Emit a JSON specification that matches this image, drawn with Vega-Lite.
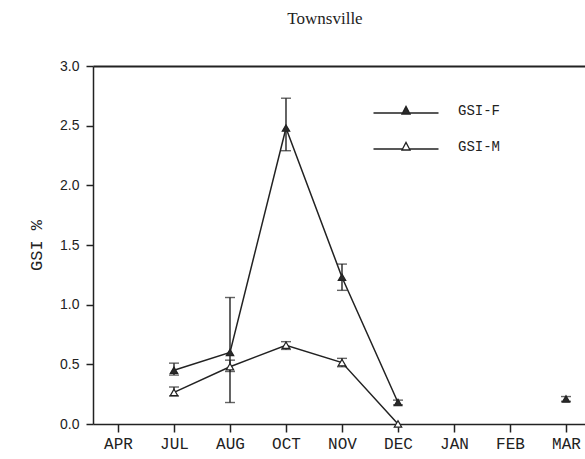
{
  "$schema": "https://vega.github.io/schema/vega-lite/v6.json",
  "width": 492,
  "height": 358,
  "autosize": {"type": "none"},
  "padding": {"left": 93, "top": 66, "right": 0, "bottom": 35},
  "background": "white",
  "title": {"text": "Townsville", "font": "Liberation Serif", "fontSize": 17, "fontWeight": "normal", "color": "#222", "offset": 31, "dx": -14},
  "config": {
    "view": {"stroke": null},
    "axis": {"grid": false, "domainColor": "#222", "domainWidth": 1.5, "tickColor": "#222", "tickWidth": 1.5, "tickSize": 7, "labelColor": "#222", "titleColor": "#222"}
  },
  "data": {"values": [
    {"month": "JUL", "series": "GSI-F", "value": 0.45, "lo": 0.41, "hi": 0.51},
    {"month": "AUG", "series": "GSI-F", "value": 0.60, "lo": 0.18, "hi": 1.06},
    {"month": "OCT", "series": "GSI-F", "value": 2.48, "lo": 2.29, "hi": 2.73},
    {"month": "NOV", "series": "GSI-F", "value": 1.23, "lo": 1.12, "hi": 1.34},
    {"month": "DEC", "series": "GSI-F", "value": 0.18, "lo": 0.16, "hi": 0.20},
    {"month": "JAN", "series": "GSI-F", "value": null, "lo": null, "hi": null},
    {"month": "FEB", "series": "GSI-F", "value": null, "lo": null, "hi": null},
    {"month": "MAR", "series": "GSI-F", "value": 0.21, "lo": 0.19, "hi": 0.23},
    {"month": "JUL", "series": "GSI-M", "value": 0.265, "lo": 0.235, "hi": 0.31},
    {"month": "AUG", "series": "GSI-M", "value": 0.48, "lo": 0.44, "hi": 0.535},
    {"month": "OCT", "series": "GSI-M", "value": 0.66, "lo": 0.625, "hi": 0.69},
    {"month": "NOV", "series": "GSI-M", "value": 0.515, "lo": 0.48, "hi": 0.55},
    {"month": "DEC", "series": "GSI-M", "value": 0.0, "lo": null, "hi": null}
  ]},
  "layer": [
    {
      "mark": {"type": "line", "color": "#222", "strokeWidth": 1.5},
      "encoding": {
        "x": {"field": "month", "type": "ordinal", "scale": {"type": "point", "domain": ["APR","JUL","AUG","OCT","NOV","DEC","JAN","FEB","MAR"], "padding": 0.393, "align": 0.568},
              "axis": {"orient": "bottom", "title": null, "labelAngle": 0, "labelFont": "Liberation Mono", "labelFontSize": 16, "labelPadding": 3, "tickSize": 8}},
        "y": {"field": "value", "type": "quantitative", "scale": {"domain": [0, 3], "nice": false, "zero": true},
              "axis": {"values": [0, 0.5, 1, 1.5, 2, 2.5, 3], "format": ".1f", "labelFont": "Liberation Sans", "labelFontSize": 14, "labelPadding": 7,
                       "title": "GSI %", "titleFont": "Liberation Mono", "titleFontSize": 17, "titleFontWeight": "normal", "titlePadding": 14}},
        "detail": {"field": "series"},
        "order": {"value": null}
      }
    },
    {
      "transform": [{"filter": "datum.lo != null"}],
      "mark": {"type": "rule", "color": "#222", "strokeWidth": 1.4},
      "encoding": {
        "x": {"field": "month", "type": "ordinal", "axis": {"orient": "top", "labels": false, "ticks": false, "title": null, "domainWidth": 2}},
        "y": {"field": "lo", "type": "quantitative"},
        "y2": {"field": "hi"}
      }
    },
    {
      "transform": [{"filter": "datum.lo != null"}],
      "mark": {"type": "tick", "color": "#222", "thickness": 1.4, "size": 10},
      "encoding": {
        "x": {"field": "month", "type": "ordinal", "axis": null},
        "y": {"field": "lo", "type": "quantitative"}
      }
    },
    {
      "transform": [{"filter": "datum.hi != null"}],
      "mark": {"type": "tick", "color": "#222", "thickness": 1.4, "size": 10},
      "encoding": {
        "x": {"field": "month", "type": "ordinal", "axis": null},
        "y": {"field": "hi", "type": "quantitative"}
      }
    },
    {
      "transform": [{"filter": "datum.value != null"}],
      "mark": {"type": "point", "shape": "triangle-up", "filled": true, "size": 55, "stroke": "#222", "strokeWidth": 1.2, "opacity": 1},
      "encoding": {
        "x": {"field": "month", "type": "ordinal", "axis": null},
        "y": {"field": "value", "type": "quantitative"},
        "fill": {"field": "series", "type": "nominal", "scale": {"domain": ["GSI-F", "GSI-M"], "range": ["#2a2a2a", "white"]},
                 "legend": {"orient": "none", "legendX": 306, "legendY": 38, "title": null, "symbolSize": 100, "labelOffset": 45, "rowPadding": 21,
                            "labelFont": "Liberation Mono", "labelFontSize": 14, "labelColor": "#222",
                            "symbolType": "M-6.5,0.4H-0.69M0.69,0.4H6.5M-0.8,0.6L0,-0.9L0.8,0.6Z",
                            "symbolStrokeColor": "#222", "symbolStrokeWidth": 1.3}}
      }
    }
  ]
}
